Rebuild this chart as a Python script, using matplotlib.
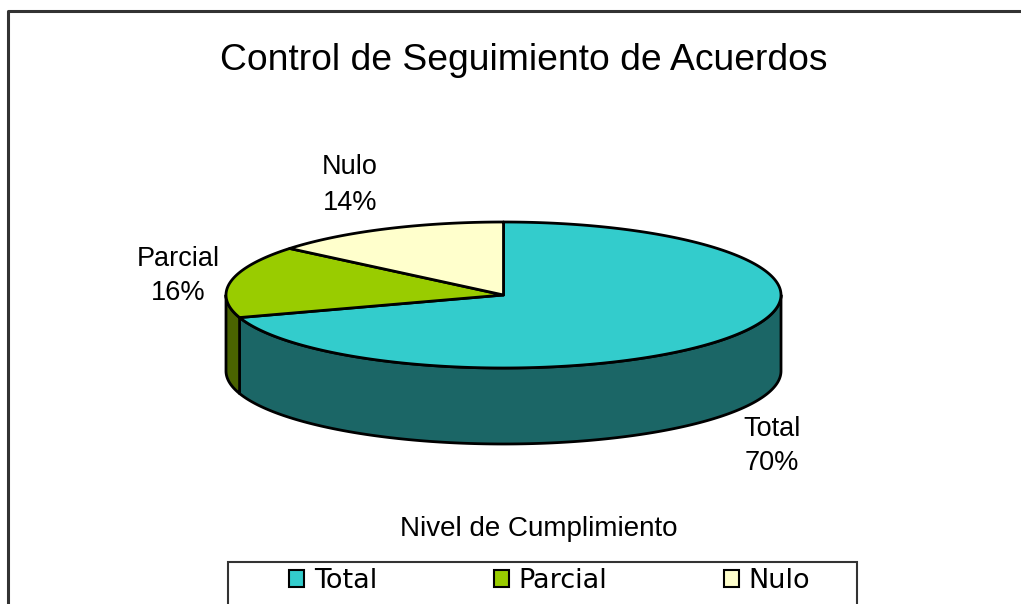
import numpy as np
import matplotlib
matplotlib.use("Agg")
import matplotlib.pyplot as plt
from matplotlib.patches import Polygon, Patch, Rectangle
from matplotlib.lines import Line2D

# ---- data ----
categories = ["Total", "Parcial", "Nulo"]
values = [70, 16, 14]
top_colors = ["#33CCCC", "#99CC00", "#FFFFCC"]
side_colors = ["#1B6666", "#4A6300", "#808066"]
title = "Control de Seguimiento de Acuerdos"
legend_title = "Nivel de Cumplimiento"

# ---- layout (pixel space) ----
W, H = 1021, 604
cx, cy = 503.5, 295.0
rx, ry = 277.5, 73.0
depth = 76.0

fig = plt.figure(figsize=(W / 100, H / 100), dpi=100)
ax = fig.add_axes([0, 0, 1, 1])
ax.set_xlim(0, W)
ax.set_ylim(H, 0)
ax.axis("off")

# figure border (only left and top visible)
ax.add_line(Line2D([8, 8, W + 5], [H + 5, 11, 11], color="#333333", lw=2.2))

ax.text(524, 60, title, ha="center", va="center", fontsize=26.8,
        family="Liberation Sans")

# slice angles: start at 90 deg, clockwise
total = float(sum(values))
starts, ends = [], []
a = 90.0
for v in values:
    sweep = 360.0 * v / total
    starts.append(a - sweep)
    ends.append(a)
    a -= sweep

def pt(t, dy=0.0):
    t = np.radians(t)
    return cx + rx * np.cos(t), cy - ry * np.sin(t) + dy

# side walls (front half: angles 180..360)
for i, (s, e) in enumerate(zip(starts, ends)):
    lo, hi = s % 360, e % 360
    if hi <= lo:
        hi += 360
    segs = []
    for base in (0, 360):
        a0 = max(lo, 180 + base)
        a1 = min(hi, 360 + base)
        if a1 > a0:
            segs.append((a0, a1))
    for a0, a1 in segs:
        t = np.linspace(a0, a1, 200)
        xs, ys = pt(t)
        xb, yb = pt(t[::-1], depth)
        poly = np.column_stack([np.concatenate([xs, xb]), np.concatenate([ys, yb])])
        ax.add_patch(Polygon(poly, closed=True, fc=side_colors[i], ec="black",
                             lw=2, joinstyle="round"))

# top wedges
for i, (s, e) in enumerate(zip(starts, ends)):
    t = np.linspace(s, e, 300)
    xs, ys = pt(t)
    poly = np.column_stack([np.concatenate([[cx], xs]), np.concatenate([[cy], ys])])
    ax.add_patch(Polygon(poly, closed=True, fc=top_colors[i], ec="black",
                         lw=2, joinstyle="round"))

# data labels
label_pos = [(772, 446), (178, 276), (350, 185)]
for (lx, ly), c, v in zip(label_pos, categories, values):
    ax.text(lx, ly, f"{c}\n{v}%", ha="center", va="center", fontsize=19.5,
            family="Liberation Sans", linespacing=1.45)

ax.text(539, 529, legend_title, ha="center", va="center", fontsize=20,
        family="Liberation Sans")

# legend frame (extends past the bottom edge)
ax.add_patch(Rectangle((228, 562), 857 - 228, 80, fc="white", ec="#333333", lw=1.5))

handles = [Patch(fc=c, ec="black", lw=1.5) for c in top_colors]
leg = fig.legend(handles, categories, loc="center left", ncol=3,
                 bbox_to_anchor=(289 / W, 1 - 581 / H),
                 frameon=False,
                 prop={"family": "DejaVu Sans", "size": 19.5},
                 handlelength=0.55, handleheight=0.55, handletextpad=0.37,
                 columnspacing=4.3, borderaxespad=0, borderpad=0)

fig.savefig("out.png", dpi=100)
